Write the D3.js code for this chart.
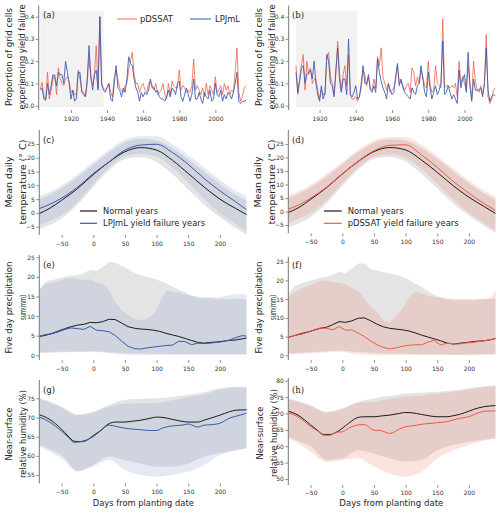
<!DOCTYPE html>
<html><head><meta charset="utf-8">
<script src="https://cdn.jsdelivr.net/npm/d3@7"></script>
<style>body{margin:0;background:#fff}svg{display:block}</style>
</head><body><svg id="c" width="500" height="512"></svg>
<script>
// ---------------- DATA ----------------
const yearsA = d3.range(1903, 2018);
const yearsB = d3.range(1907, 2018);
const shadeA = [1903, 1938.1];
const shadeB = [1907, 1940.7];
const aLPJmL = [.07,.08,.03,.025,.10,.05,.09,.14,.13,.09,
 .15,.14,.14,.10,.20,.15,.10,.03,.07,.02,
 .03,.15,.15,.06,.05,.04,.12,.27,.14,.07,
 .14,.16,.07,.40,.10,.07,.06,.08,.10,.03,
 .02,.10,.18,.08,.07,.04,.08,.06,.12,.22,
 .19,.18,.12,.08,.06,.02,.06,.04,.06,.05,
 .07,.12,.08,.08,.06,.07,.04,.03,.03,.02,
 .04,.07,.04,.08,.07,.05,.10,.11,.04,.02,
 .05,.08,.05,.02,.05,.12,.03,.03,.06,.03,
 .01,.06,.04,.03,.07,.02,.03,.10,.05,.04,
 .07,.02,.05,.03,.06,.05,.03,.06,.10,.15,
 .02,.01,.02,.02,.025];
const aPDSSAT = [.075,.105,.04,.03,.15,.03,.07,.12,.14,.05,
 .17,.12,.10,.09,.12,.13,.11,.06,.07,.05,
 .05,.16,.12,.07,.06,.04,.10,.22,.12,.09,
 .14,.27,.08,.40,.09,.08,.07,.08,.10,.06,
 .04,.13,.16,.12,.08,.07,.06,.09,.10,.16,
 .20,.24,.14,.10,.10,.06,.09,.10,.07,.06,
 .10,.11,.09,.07,.10,.05,.06,.07,.10,.05,
 .03,.10,.05,.11,.09,.08,.08,.16,.07,.09,
 .08,.06,.07,.06,.09,.21,.07,.09,.07,.05,
 .08,.04,.10,.05,.09,.07,.05,.13,.06,.07,
 .09,.05,.10,.07,.09,.05,.07,.06,.15,.26,
 .06,.02,.04,.08,.09];
const bLPJmL = [.15,.06,.11,.17,.18,.10,.14,.15,.16,.12,
 .20,.10,.05,.02,.09,.03,.06,.23,.20,.10,
 .09,.04,.16,.26,.12,.06,.12,.12,.05,.30,
 .05,.04,.06,.09,.03,.04,.10,.18,.10,.10,
 .14,.07,.06,.09,.06,.21,.15,.11,.08,.06,
 .03,.10,.07,.05,.06,.13,.19,.09,.12,.08,
 .06,.05,.04,.03,.08,.06,.05,.09,.10,.18,
 .12,.06,.04,.15,.08,.03,.06,.09,.05,.07,
 .10,.29,.05,.06,.09,.06,.03,.05,.03,.01,
 .16,.08,.12,.14,.06,.24,.09,.02,.12,.07,
 .07,.07,.08,.04,.10,.26,.07,.02,.04,.05,
 .045];
const bPDSSAT = [.18,.05,.12,.18,.23,.07,.20,.14,.17,.10,
 .12,.12,.07,.03,.07,.05,.05,.22,.24,.13,
 .10,.05,.14,.29,.15,.07,.14,.18,.09,.23,
 .05,.03,.03,.04,.02,.04,.08,.16,.14,.09,
 .13,.08,.07,.12,.08,.22,.18,.26,.13,.10,
 .07,.10,.06,.07,.08,.12,.18,.10,.11,.09,
 .07,.09,.10,.06,.17,.15,.09,.13,.10,.16,
 .13,.09,.08,.20,.10,.06,.07,.18,.10,.09,
 .08,.39,.08,.09,.09,.08,.09,.08,.10,.04,
 .20,.10,.13,.10,.07,.18,.10,.03,.20,.11,
 .07,.06,.09,.05,.10,.32,.04,.01,.03,.07,
 .08];
const yTicksTop = [0, 0.1, 0.2, 0.3, 0.4];
const xTicksYears = [1920, 1940, 1960, 1980, 2000];

// day grids
const daysT = [-85,-70,-50,-25,0,25,50,75,100,125,150,175,200,225,242];
const daysP = [-85,-75,-65,-55,-45,-35,-25,-15,-5,5,15,25,35,45,55,65,75,85,95,105,115,125,135,145,155,165,175,185,195,205,215,225,235,242];
const daysH = [-85,-70,-50,-40,-30,-20,-10,0,10,25,35,50,60,75,90,100,110,125,140,150,165,175,185,200,215,225,242];
const xTicksDays = [-50, 0, 50, 100, 150, 200];

// temperature (c)
const cNormal   = [-0.2,1.5,4.6,8.8,13.9,18.5,22.2,23.7,22.8,19.1,14.3,9.4,5.0,1.6,-0.6];
const cFail     = [1.6,3.0,5.4,9.3,14.3,18.5,22.8,24.6,24.9,21.9,17.6,12.5,8.0,4.0,1.2];
const cNormHi   = [5.0,6.5,9.0,13.0,17.5,22.0,25.5,26.8,26.3,23.5,19.5,15.0,10.5,6.5,4.5];
const cFailHi   = [6.2,7.5,10.0,14.0,18.5,23.0,26.5,27.8,27.8,25.0,21.0,16.5,12.0,8.0,6.0];
const cNormLo   = [-5.8,-4.5,-2.0,3.0,9.5,15.5,19.5,20.2,18.5,14.0,8.5,3.0,-1.5,-5.5,-7.8];
const cFailLo   = [-4.5,-3.0,-0.8,4.0,10.5,16.5,20.5,21.5,20.5,16.5,11.0,5.0,0.0,-4.0,-6.5];
// temperature (d)
const dNormal   = [-0.3,1.3,4.5,8.8,13.9,18.5,22.2,23.7,22.8,19.1,14.5,9.6,5.3,1.7,-0.7];
const dFail     = [0.9,2.3,5.0,9.0,14.0,18.6,22.5,24.5,24.7,21.0,16.3,11.2,6.8,2.8,0.4];
const dNormHi   = [5.0,6.5,9.0,13.0,17.5,22.0,25.5,26.8,26.3,23.5,19.5,15.0,10.5,6.5,4.5];
const dFailHi   = [6.0,7.4,9.8,13.8,18.2,22.8,26.3,27.6,27.6,24.7,20.6,16.0,11.5,7.6,5.6];
const dNormLo   = [-5.8,-4.5,-2.0,3.0,9.5,15.5,19.5,20.2,18.5,14.0,8.5,3.0,-1.5,-5.5,-8.0];
const dFailLo   = [-4.2,-2.8,-0.6,4.2,10.5,16.3,20.3,21.2,20.0,15.8,10.3,4.5,-0.5,-4.5,-7.0];
const yTicksT = [-5,0,5,10,15,20,25];

// precipitation (e)
const eNormal = [4.8,5.1,5.6,6.2,6.8,7.3,7.7,7.9,8.4,8.3,8.6,9.2,9.1,8.2,7.3,6.9,6.7,6.6,6.4,6.1,5.6,5.2,4.8,4.3,3.8,3.3,3.1,3.3,3.4,3.6,3.8,3.9,4.2,4.4];
const eFail   = [4.9,5.3,5.5,6.0,6.6,7.0,6.8,6.6,7.4,6.4,6.3,6.0,5.0,3.6,2.3,1.7,1.6,1.9,2.1,2.3,2.5,2.6,3.6,3.5,2.7,3.1,3.0,3.1,3.3,3.5,3.9,4.5,5.0,4.9];
const eNormHi = [16.7,18.8,19.2,19.6,20.0,20.3,20.5,21.0,21.8,21.5,22.5,23.8,23.6,22.8,22.0,21.0,20.4,20.0,19.6,19.0,18.4,17.5,16.8,16.0,15.2,14.6,14.5,14.6,14.3,14.4,14.2,14.5,14.3,14.2];
const eFailHi = [17.0,18.2,18.5,18.8,19.5,19.8,19.5,19.2,19.4,18.6,18.2,16.5,13.5,11.5,10.4,9.3,9.0,9.3,10.4,13.5,16.5,16.2,16.0,15.5,15.2,15.0,14.8,14.8,14.9,15.0,15.3,15.6,15.6,15.4];
const eNormLo = [0.6,0.6,0.7,0.7,0.8,0.8,0.9,0.9,1.0,1.0,0.9,0.8,0.7,0.6,0.5,0.5,0.5,0.4,0.4,0.4,0.4,0.3,0.3,0.3,0.3,0.3,0.3,0.3,0.3,0.3,0.3,0.3,0.3,0.3];
const eFailLo = [0.8,0.9,0.9,1.0,1.0,1.0,1.0,1.0,1.0,0.9,0.7,0.5,0.3,0.2,0.1,0.1,0.1,0.1,0.1,0.1,0.1,0.1,0.1,0.1,0.1,0.1,0.1,0.1,0.1,0.1,0.1,0.1,0.1,0.1];
// precipitation (f)
const fNormal = [4.8,5.3,5.8,6.2,6.7,7.2,7.5,8.2,9.0,8.8,9.2,9.9,10.0,9.2,8.3,7.6,7.2,7.0,6.8,6.5,6.0,5.4,4.9,4.4,3.9,3.3,3.0,3.2,3.4,3.6,3.8,3.9,4.2,4.5];
const fFail   = [4.8,5.3,5.6,6.1,6.8,7.3,7.2,6.8,7.7,6.7,6.8,5.9,5.0,3.8,2.8,2.1,1.7,2.0,2.4,2.7,2.8,2.8,3.5,4.0,2.8,3.2,3.1,3.0,3.3,3.4,3.7,3.9,4.2,4.5];
const fNormHi = [16.5,18.5,19.2,19.7,20.2,20.7,21.0,21.5,22.3,22.0,23.2,24.5,24.5,23.0,22.7,22.2,21.9,21.5,21.0,20.2,19.2,18.3,17.2,16.2,15.5,14.9,14.8,14.7,14.8,14.7,14.9,15.0,15.1,15.2];
const fFailHi = [15.7,16.8,17.8,18.5,19.2,19.8,20.0,19.6,19.3,19.0,18.0,17.2,15.0,13.0,11.5,9.2,8.8,10.5,12.5,15.5,17.0,16.5,16.0,15.6,15.4,15.3,15.2,15.1,15.2,15.0,15.0,15.1,15.5,17.5];
const fNormLo = [0.5,0.6,0.7,0.8,0.9,1.0,1.1,1.2,1.3,1.2,1.0,0.9,0.8,0.7,0.6,0.5,0.5,0.4,0.4,0.4,0.3,0.3,0.3,0.3,0.3,0.2,0.2,0.2,0.2,0.2,0.2,0.3,0.3,0.3];
const fFailLo = [0.3,0.3,0.4,0.5,0.6,0.7,0.8,0.9,1.0,0.8,0.5,0.3,0.2,0.1,0.1,0.1,0.1,0.1,0.1,0.1,0.1,0.1,0.1,0.1,0.1,0.1,0.1,0.1,0.1,0.1,0.1,0.2,0.2,0.2];
const yTicksP = [0,5,10,15,20,25];

// humidity (g)
const gNormal = [70.7,69.6,66.9,65.2,63.8,63.7,64.1,65.3,66.4,68.4,68.8,68.8,69.0,69.3,69.8,70.1,70.0,69.5,69.0,68.8,68.8,69.3,69.8,70.6,71.5,71.9,72.0];
const gFail   = [70.1,68.9,66.4,64.9,63.5,63.7,64.2,65.0,66.3,68.0,67.7,67.2,67.0,66.8,66.6,66.6,67.3,67.8,68.0,68.3,67.5,68.0,68.1,68.5,69.8,70.3,71.1];
const gNormHi = [75.0,74.2,72.8,70.8,71.5,73.3,74.6,74.9,75.0,75.4,75.9,76.6,77.6,78.0,78.0];
const gFailHi = [74.8,74.0,72.5,70.6,71.2,72.8,73.6,73.7,73.8,74.5,75.3,76.0,77.2,77.8,77.8];
const gNormLo = [62.8,61.8,60.2,56.1,57.6,59.8,58.9,58.0,57.2,57.2,58.0,59.8,60.7,61.5,62.0];
const gFailLo = [62.4,61.2,59.3,55.9,57.2,58.9,56.3,55.0,54.6,55.0,55.9,57.6,60.2,61.3,62.0];
const yTicksG = [55,60,65,70,75];
// humidity (h)
const hNormal = [70.7,69.5,66.5,65.0,63.6,63.6,64.2,65.5,67.0,68.8,69.0,69.0,69.2,69.5,70.0,70.3,70.2,69.7,69.2,69.0,69.0,69.3,69.7,70.7,71.7,72.1,72.4];
const hFail   = [70.2,69.0,66.0,64.8,63.4,63.3,64.3,64.4,65.5,66.5,66.6,64.9,64.8,63.9,65.2,66.0,66.2,66.7,67.0,67.2,67.5,68.0,68.5,69.0,70.2,70.7,70.8];
const hNormHi = [74.6,73.8,72.5,70.5,71.6,73.6,74.6,75.3,76.1,76.3,76.6,77.0,77.7,78.3,78.7];
const hFailHi = [74.3,73.5,72.2,70.3,71.3,73.2,73.6,74.5,75.1,75.5,76.0,76.6,77.4,78.0,78.4];
const hNormLo = [62.9,61.6,59.9,55.8,56.3,58.8,57.8,56.3,55.3,55.8,58.8,60.4,61.4,62.0,62.4];
const hFailLo = [62.4,60.8,58.3,55.1,55.8,56.3,53.8,51.7,50.7,52.2,56.3,58.8,60.4,61.8,62.4];
const yTicksH = [50,55,60,65,70,75,80];

// ---------------- STYLE ----------------
const RED = "#f05a40", BLUE = "#3a58ad", BLACK = "#1a1a1a";
const SPINE = "#777", TXT = "#262626";
const FONT = "DejaVu Sans", SERIF = "DejaVu Serif";
const svg = d3.select("#c");

function styleAxis(g) {
  g.select(".domain").remove();
  g.selectAll(".tick line").attr("stroke", SPINE).attr("stroke-width", 0.8);
  g.selectAll(".tick text").attr("font-family", FONT).attr("font-size", 6).attr("fill", "#333");
}

function yTitle(lines, xs, cy, lens) {
  lines.forEach((t, i) => {
    svg.append("text").attr("transform", `translate(${xs[i]},${cy}) rotate(-90)`)
      .attr("text-anchor", "middle").attr("dominant-baseline", "central")
      .attr("font-family", FONT).attr("font-size", 8.2).attr("fill", TXT)
      .attr("textLength", lens[i]).attr("lengthAdjust", "spacingAndGlyphs").text(t);
  });
}

function panelLabel(t, x, y, serif) {
  svg.append("text").attr("x", x).attr("y", y).attr("font-family", serif ? SERIF : FONT)
    .attr("font-size", 8.5).attr("fill", TXT).text(t);
}

function drawTop(cfg) {
  const x = d3.scaleLinear().domain([cfg.years[0], cfg.years[cfg.years.length - 1]]).range(cfg.xr);
  const y = d3.scaleLinear().domain([0, 0.4]).range([105.7, 16.7]);
  svg.append("rect").attr("x", x(cfg.shade[0])).attr("width", x(cfg.shade[1]) - x(cfg.shade[0]))
    .attr("y", 11).attr("height", 96).attr("fill", "#f2f2f2");
  const ya = svg.append("g").attr("transform", `translate(${cfg.spineX},0)`)
    .call(d3.axisLeft(y).tickValues(yTicksTop).tickFormat(d3.format(".1f")).tickSize(3).tickPadding(1.5));
  styleAxis(ya);
  svg.append("line").attr("x1", cfg.spineX).attr("x2", cfg.spineX).attr("y1", y(0.45)).attr("y2", y(-0.019))
    .attr("stroke", SPINE).attr("stroke-width", 1);
  const xa = svg.append("g").attr("transform", `translate(0,110)`)
    .call(d3.axisBottom(x).tickValues(xTicksYears).tickFormat(d3.format("d")).tickSize(3).tickPadding(3.3));
  styleAxis(xa);
  const line = d3.line().x((d, i) => x(cfg.years[i])).y(d => y(d));
  svg.append("path").datum(cfg.red).attr("d", line).attr("fill", "none").attr("stroke", RED)
    .attr("stroke-opacity", 0.75).attr("stroke-width", 1);
  svg.append("path").datum(cfg.blue).attr("d", line).attr("fill", "none").attr("stroke", BLUE)
    .attr("stroke-opacity", 0.85).attr("stroke-width", 1);
  panelLabel(cfg.label, cfg.labelX, 18, cfg.serif);
  yTitle(["Proportion of grid cells", "experiencing yield failure"], cfg.titleX, 57, [98, 105]);
}

function drawBand(cfg) {
  const x = d3.scaleLinear().domain([-85, 242]).range(cfg.xr);
  const y = d3.scaleLinear().domain(cfg.yref).range(cfg.ypx);
  const curve = cfg.smooth ? d3.curveMonotoneX : d3.curveLinear;
  const area = (days, lo, hi) => d3.area().x((d, i) => x(days[i])).y0((d, i) => y(lo[i])).y1((d, i) => y(hi[i])).curve(curve)(days);
  svg.append("path").attr("d", area(cfg.bandDays, cfg.normLo, cfg.normHi)).attr("fill", "#808080").attr("fill-opacity", 0.21);
  svg.append("path").attr("d", area(cfg.bandDays, cfg.failLo, cfg.failHi)).attr("fill", cfg.bandColor).attr("fill-opacity", cfg.bandOpacity);
  const ln = vals => d3.line().x((d, i) => x(cfg.lineDays[i])).y(d => y(d)).curve(curve)(vals);
  svg.append("path").attr("d", ln(cfg.normal)).attr("fill", "none").attr("stroke", BLACK).attr("stroke-width", 1);
  svg.append("path").attr("d", ln(cfg.fail)).attr("fill", "none").attr("stroke", cfg.color).attr("stroke-width", 1);
  const ya = svg.append("g").attr("transform", `translate(${cfg.spineX},0)`)
    .call(d3.axisLeft(y).tickValues(cfg.yticks).tickFormat(d3.format("d")).tickSize(3).tickPadding(1.5));
  styleAxis(ya);
  svg.append("line").attr("x1", cfg.spineX).attr("x2", cfg.spineX).attr("y1", y(cfg.spine[1])).attr("y2", y(cfg.spine[0]))
    .attr("stroke", SPINE).attr("stroke-width", 1);
  const xa = svg.append("g").attr("transform", `translate(0,${y(cfg.spine[0])})`)
    .call(d3.axisBottom(x).tickValues(xTicksDays).tickFormat(d3.format("d")).tickSize(3).tickPadding(3.3));
  styleAxis(xa);
  panelLabel(cfg.label, cfg.labelX, cfg.labelY, cfg.serif);
  yTitle(cfg.title, cfg.titleX, cfg.titleY, cfg.titleLen);
  if (cfg.xTitle) {
    svg.append("text").attr("x", cfg.xTitle[0]).attr("y", cfg.xTitle[1]).attr("text-anchor", "middle")
      .attr("font-family", FONT).attr("font-size", 8.6).attr("fill", TXT)
      .attr("textLength", cfg.xTitle[2]).attr("lengthAdjust", "spacingAndGlyphs").text("Days from planting date");
  }
  if (cfg.legend) {
    const L = cfg.legend;
    [["Normal years", BLACK, L.w[0]], [L.name, cfg.color, L.w[1]]].forEach((e, i) => {
      const yy = L.ys[i];
      svg.append("line").attr("x1", L.x0).attr("x2", L.x1).attr("y1", yy).attr("y2", yy).attr("stroke", e[1]).attr("stroke-width", 1.2);
      svg.append("text").attr("x", L.tx).attr("y", yy + 3).attr("font-family", FONT).attr("font-size", 8.3)
        .attr("fill", TXT).attr("textLength", e[2]).attr("lengthAdjust", "spacingAndGlyphs").text(e[0]);
    });
  }
}

// ---------------- PANELS ----------------
drawTop({years: yearsA, xr: [40.3, 246], shade: shadeA, red: aPDSSAT, blue: aLPJmL, spineX: 38.7,
  label: "(a)", labelX: 43, serif: false, titleX: [8.5, 22]});
drawTop({years: yearsB, xr: [296, 495.3], shade: shadeB, red: bPDSSAT, blue: bLPJmL, spineX: 288.7,
  label: "(b)", labelX: 292, serif: true, titleX: [258.5, 272]});

// top legend
[["pDSSAT", RED, 117, 137, 140, 33, 0.75], ["LPJmL", BLUE, 190, 211, 215, 25, 0.85]].forEach(e => {
  svg.append("line").attr("x1", e[2]).attr("x2", e[3]).attr("y1", 19).attr("y2", 19)
    .attr("stroke", e[1]).attr("stroke-opacity", e[6]).attr("stroke-width", 1.2);
  svg.append("text").attr("x", e[4]).attr("y", 22.3).attr("font-family", FONT).attr("font-size", 9)
    .attr("fill", TXT).attr("textLength", e[5]).attr("lengthAdjust", "spacingAndGlyphs").text(e[0]);
});

const blueBand = {bandColor: "rgb(132,155,200)", bandOpacity: 0.22, color: BLUE};
const redBand = {bandColor: "rgb(235,120,95)", bandOpacity: 0.2, color: RED};

drawBand(Object.assign({xr: [39.5, 246.5], spineX: 39.3, yref: [-5, 25], ypx: [226.7, 144], spine: [-8, 30.1],
  yticks: yTicksT, smooth: true, bandDays: daysT, lineDays: daysT,
  normal: cNormal, fail: cFail, normHi: cNormHi, normLo: cNormLo, failHi: cFailHi, failLo: cFailLo,
  label: "(c)", labelX: 43, labelY: 143, title: ["Mean daily", "temperature (\u00B0 C)"], titleX: [9, 23], titleY: 182, titleLen: [51, 85],
  legend: {x0: 80, x1: 97, tx: 103, ys: [211, 223.3], name: "LPJmL yield failure years", w: [55, 102]}}, blueBand));
drawBand(Object.assign({xr: [288.5, 495.5], spineX: 288.3, yref: [-5, 25], ypx: [225, 144], spine: [-8.1, 30.2],
  yticks: yTicksT, smooth: true, bandDays: daysT, lineDays: daysT,
  normal: dNormal, fail: dFail, normHi: dNormHi, normLo: dNormLo, failHi: dFailHi, failLo: dFailLo,
  label: "(d)", labelX: 292, labelY: 143, serif: true, title: ["Mean daily", "temperature (\u00B0 C)"], titleX: [258, 272], titleY: 182, titleLen: [51, 85],
  legend: {x0: 324, x1: 341.7, tx: 347.7, ys: [211, 223.3], name: "pDSSAT yield failure years", w: [56, 111]}}, redBand));
drawBand(Object.assign({xr: [39.5, 246.5], spineX: 39.3, yref: [0, 25], ypx: [355.3, 257.3], spine: [-1.2, 25.6],
  yticks: yTicksP, smooth: false, bandDays: daysP, lineDays: daysP,
  normal: eNormal, fail: eFail, normHi: eNormHi, normLo: eNormLo, failHi: eFailHi, failLo: eFailLo,
  label: "(e)", labelX: 43, labelY: 268, title: ["Five day precipitation", "sum(mm)"], titleX: [9, 23], titleY: 307.5, titleLen: [92, 25]}, blueBand));
drawBand(Object.assign({xr: [288.5, 495.5], spineX: 288.3, yref: [0, 25], ypx: [355.3, 261.7], spine: [-1.25, 26.3],
  yticks: yTicksP, smooth: false, bandDays: daysP, lineDays: daysP,
  normal: fNormal, fail: fFail, normHi: fNormHi, normLo: fNormLo, failHi: fFailHi, failLo: fFailLo,
  label: "(f)", labelX: 292, labelY: 268, serif: true, title: ["Five day precipitation", "sum(mm)"], titleX: [259, 273], titleY: 307.5, titleLen: [92, 25]}, redBand));
drawBand(Object.assign({xr: [39.5, 246.5], spineX: 39.3, yref: [55, 75], ypx: [475, 398.3], spine: [52.8, 79.8],
  yticks: yTicksG, smooth: true, bandDays: daysT, lineDays: daysH,
  normal: gNormal, fail: gFail, normHi: gNormHi, normLo: gNormLo, failHi: gFailHi, failLo: gFailLo,
  label: "(g)", labelX: 43, labelY: 393, title: ["Near-surface", "relative humidity (%)"], titleX: [9, 23], titleY: 434, titleLen: [53, 88],
  xTitle: [143.3, 506, 101]}, blueBand));
drawBand(Object.assign({xr: [288.5, 495.5], spineX: 288.3, yref: [50, 80], ypx: [479, 380.7], spine: [48.2, 80.8],
  yticks: yTicksH, smooth: true, bandDays: daysT, lineDays: daysH,
  normal: hNormal, fail: hFail, normHi: hNormHi, normLo: hNormLo, failHi: hFailHi, failLo: hFailLo,
  label: "(h)", labelX: 292, labelY: 393, serif: true, title: ["Near-surface", "relative humidity (%)"], titleX: [259.5, 273.5], titleY: 433, titleLen: [53, 88],
  xTitle: [391.3, 506, 104]}, redBand));
</script>
</body></html>
